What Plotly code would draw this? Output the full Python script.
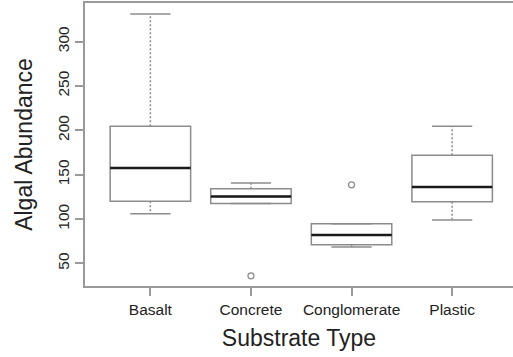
import plotly.graph_objects as go

categories = ["Basalt", "Concrete", "Conglomerate", "Plastic"]
lower_whisker = [106, 117.5, 68.6, 99]
q1 = [120, 117.5, 71, 119.5]
median = [157.5, 125.5, 82, 136]
q3 = [204.5, 134, 94.6, 172]
upper_whisker = [331, 140.5, 94.6, 204.5]
outlier_cat = ["Concrete", "Conglomerate"]
outlier_val = [36, 138.6]

pos = {c: i + 1 for i, c in enumerate(categories)}
BOXW = 0.8
CAPW = 0.4
LINE = "#8c8c8c"

fig = go.Figure()

for i, c in enumerate(categories):
    x = pos[c]
    fig.add_trace(go.Box(
        x=[x], q1=[q1[i]], median=[median[i]], q3=[q3[i]],
        lowerfence=[q1[i]], upperfence=[q3[i]],
        width=BOXW, fillcolor="white",
        line=dict(color=LINE, width=1.5),
        boxpoints=False, hoverinfo="skip", showlegend=False,
    ))
    # dashed whiskers
    fig.add_trace(go.Scatter(
        x=[x, x, None, x, x],
        y=[q3[i], upper_whisker[i], None, q1[i], lower_whisker[i]],
        mode="lines", line=dict(color=LINE, width=1.5, dash="2px,2px"),
        showlegend=False, hoverinfo="skip"))
    # caps
    fig.add_trace(go.Scatter(
        x=[x - CAPW / 2, x + CAPW / 2, None, x - CAPW / 2, x + CAPW / 2],
        y=[upper_whisker[i], upper_whisker[i], None, lower_whisker[i], lower_whisker[i]],
        mode="lines", line=dict(color=LINE, width=1.5),
        showlegend=False, hoverinfo="skip"))
    # median
    fig.add_trace(go.Scatter(
        x=[x - BOXW / 2, x + BOXW / 2], y=[median[i], median[i]],
        mode="lines", line=dict(color="#1a1a1a", width=2.5),
        showlegend=False, hoverinfo="skip"))

fig.add_trace(go.Scatter(
    x=[pos[c] for c in outlier_cat], y=outlier_val, mode="markers",
    marker=dict(symbol="circle-open", size=6, color=LINE, line=dict(width=1.3)),
    showlegend=False, hoverinfo="skip"))

fig.update_layout(
    width=513, height=357,
    margin=dict(l=85, r=0, t=3, b=71),
    paper_bgcolor="white", plot_bgcolor="white",
    font=dict(family="Liberation Sans, Arial, sans-serif", color="#222"),
    xaxis=dict(
        range=[0.35, 4.605], tickvals=[1, 2, 3, 4], ticktext=categories,
        showline=True, mirror=True, linecolor="#9a9a9a", linewidth=2,
        ticks="outside", ticklen=8, tickcolor="#9a9a9a", tickwidth=1.5,
        showgrid=False, zeroline=False, tickfont=dict(size=15.5),
        title=dict(text="Substrate Type", font=dict(size=23), standoff=13),
    ),
    yaxis=dict(
        range=[24.5, 343.5], tickvals=[50, 100, 150, 200, 250, 300],
        showline=True, linecolor="#9a9a9a", linewidth=2,
        ticks="outside", ticklen=8, tickcolor="#9a9a9a", tickwidth=1.5,
        tickangle=-90, showgrid=False, zeroline=False, tickfont=dict(size=15.5),
        title=dict(text="Algal Abundance", font=dict(size=23), standoff=16),
    ),
)

fig.write_html("out.html", config={"displayModeBar": False},
               post_script="document.body.style.margin='0';document.body.style.overflow='hidden';")
